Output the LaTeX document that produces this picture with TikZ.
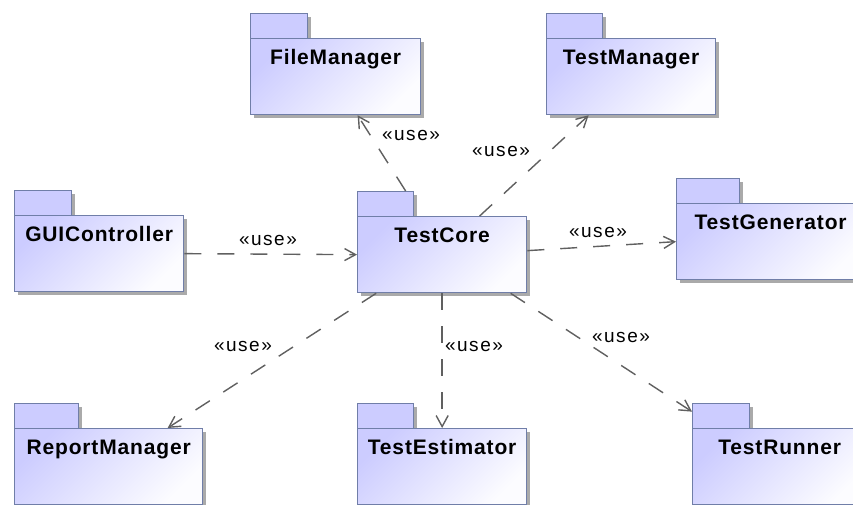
\documentclass[tikz,border=0pt]{standalone}
\usepackage{fontspec}
\setmainfont{Liberation Sans}
\newfontfamily\titlefont[LetterSpace=4]{Liberation Sans}
\newfontfamily\labelfont[LetterSpace=8]{Liberation Sans}
\usetikzlibrary{arrows.meta,calc}
\definecolor{pkgborder}{RGB}{112,126,168}
\definecolor{pkgfill}{RGB}{204,204,255}
\definecolor{pkglight}{RGB}{252,252,255}
\definecolor{shadowgray}{RGB}{170,170,170}
\definecolor{linegray}{RGB}{96,96,96}
\tikzset{
  pkgbody/.style={draw=pkgborder, line width=1.3pt, inner sep=0pt, anchor=north west,
    top color=pkgfill, bottom color=pkglight, shading angle=45},
  pkgtab/.style={draw=pkgborder, line width=1.3pt, fill=pkgfill, inner sep=0pt,
    anchor=north west, minimum height=25pt},
  pkgshadow/.style={fill=shadowgray, draw=none, inner sep=0pt, anchor=north west},
  pkgtitle/.style={font=\titlefont\bfseries\fontsize{21}{24}\selectfont, anchor=base, inner sep=0pt},
  uselabel/.style={font=\labelfont\fontsize{19}{22}\selectfont, anchor=base, inner sep=0pt},
  usearrow/.style={draw=linegray, line width=1.4pt, dash pattern=on 17pt off 16pt,
    -{Straight Barb[length=11pt,width=12pt]}},
}
% name, x, tab top, tab width, body width, title
\newcommand\pkgnode[6]{%
  \node[pkgshadow, minimum width=#4pt, minimum height=25pt] (#1tabsh) at (#2+4,#3+4) {};
  \node[pkgshadow, minimum width=#5pt, minimum height=76pt] (#1sh) at (#2+4,#3+29) {};
  \node[pkgtab, minimum width=#4pt] (#1tab) at (#2,#3) {};
  \node[pkgbody, minimum width=#5pt, minimum height=76pt] (#1) at (#2,#3+25) {};
  \node[pkgtitle] (#1title) at ([yshift=-26.5pt]#1.north) {#6};
}
\begin{document}
\begin{tikzpicture}[x=1pt,y=-1pt]
\useasboundingbox (0,0) rectangle (853,505);
\fill[white] (0,0) rectangle (853,505);
\clip (0,0) rectangle (853,505);
\pkgnode{file}{250}{13}{57}{170}{FileManager}
\pkgnode{mgr}{546}{13}{56}{169}{TestManager}
\pkgnode{gui}{14}{190}{57}{169}{GUIController}
\pkgnode{core}{357}{191}{56}{169}{TestCore}
\pkgnode{gen}{676}{178}{63}{188}{TestGenerator}
\pkgnode{report}{14}{403}{64}{188}{ReportManager}
\pkgnode{est}{357}{403}{56}{169}{TestEstimator}
\pkgnode{runner}{692}{403}{57}{174}{TestRunner}

\draw[usearrow] (gui.east) -- (core.west);
\draw[usearrow] ([xshift=20pt]coretab.north) -- ([xshift=22pt]file.south);
\draw[usearrow] ([xshift=37.5pt]core.north) -- ([xshift=-42.5pt]mgr.south);
\draw[usearrow] ([yshift=4pt]core.east) -- (gen.west);
\draw[usearrow] ([xshift=-66pt]core.south) -- ([xshift=59pt]report.north);
\draw[usearrow] (core.south) -- (est.north);
\draw[usearrow] ([xshift=68.5pt]core.south) -- ([yshift=4.5pt]runnertab.west);

\node[uselabel] (l1) at (268,245) {«use»};
\node[uselabel] (l2) at (411,141) {«use»};
\node[uselabel] (l3) at (501,157) {«use»};
\node[uselabel] (l4) at (598,237) {«use»};
\node[uselabel] (l5) at (243,351) {«use»};
\node[uselabel] (l6) at (474,351) {«use»};
\node[uselabel] (l7) at (621,342) {«use»};
\end{tikzpicture}
\end{document}
